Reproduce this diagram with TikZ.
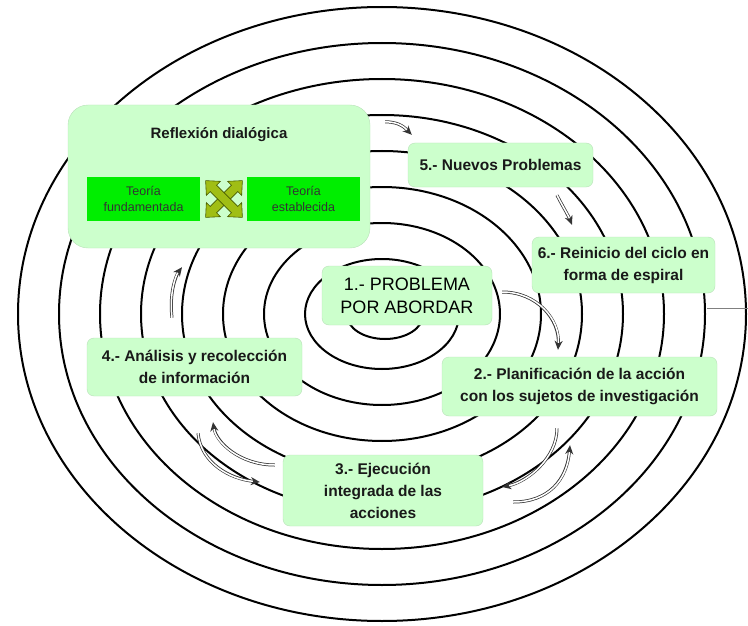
\documentclass[tikz,border=0pt]{standalone}
\usepackage{fontspec}
\setsansfont{Liberation Sans}
\usetikzlibrary{arrows.meta, calc}
\definecolor{paleGreen}{RGB}{204,255,204}
\definecolor{boxEdge}{RGB}{185,225,185}
\definecolor{brightGreen}{RGB}{0,238,0}
\definecolor{crossFill}{RGB}{160,190,20}
\definecolor{crossEdge}{RGB}{70,90,0}
\tikzset{
  ring/.style={line width=2pt},
  stepbox/.style={draw=boxEdge, fill=paleGreen, rounded corners=7pt, align=center, text=black!90,
    font=\sffamily\bfseries\fontsize{15.5}{22}\selectfont, inner sep=2pt},
  teoria/.style={fill=brightGreen, minimum width=113pt, minimum height=44pt, align=center,
    text=black!80, font=\sffamily\fontsize{12.5}{16}\selectfont, inner sep=1pt},
  flowout/.style={line width=3pt, black!80, -{Stealth[length=9pt,width=8pt]}},
  flowin/.style={line width=1.5pt, white, shorten >=7pt}
}
\newcommand{\flowarrow}[1]{\draw[flowout] #1; \draw[flowin] #1;}
\begin{document}
\begin{tikzpicture}[x=1pt, y=-1pt]
\path[use as bounding box, fill=white] (0,0) rectangle (748,626);

\foreach \k in {0,...,7}
  \draw[ring] (382,314) ellipse [x radius={(364-41*\k)*1pt}, y radius={(307-36*\k)*1pt}];
\draw[ring] (385,315) ellipse [x radius=38pt, y radius=24pt];
\coordinate (tailIn) at (707,308);
\coordinate (tailOut) at (748,308);
\draw[gray, line width=0.8pt] (tailIn) -- (tailOut);

\node[stepbox, rounded corners=20pt, minimum width=302pt, minimum height=143pt] (refl) at (219,176.5) {};
\node[text=black!90, font=\sffamily\bfseries\fontsize{15}{18}\selectfont] (titulo) at (219,135) {Reflexión dialógica};
\node[teoria] (tf) at (143.5,199) {Teoría\\fundamentada};
\node[teoria] (te) at (303.5,199) {Teoría\\establecida};
\foreach \r in {45,-45}
  \draw[fill=crossFill, draw=crossEdge, line width=0.6pt, shift={(224,199)}, rotate=\r]
    (-26,0) -- (-15,10) -- (-15,4.5) -- (15,4.5) -- (15,10) -- (26,0) -- (15,-10) -- (15,-4.5) -- (-15,-4.5) -- (-15,-10) -- cycle;

\node[stepbox, minimum width=170pt, minimum height=59pt, text=black, font=\sffamily\fontsize{18}{23}\selectfont] (p1) at (407,295.5) {1.- PROBLEMA\\POR ABORDAR};
\node[stepbox, minimum width=275pt, minimum height=59pt] (p2) at (579.5,386.5) {2.- Planificación de la acción\\con los sujetos de investigación};
\node[stepbox, minimum width=200pt, minimum height=71pt] (p3) at (383,490.5) {3.- Ejecución\\integrada de las\\acciones};
\node[stepbox, minimum width=215pt, minimum height=58pt] (p4) at (194.5,367) {4.- Análisis y recolección\\de información};
\node[stepbox, minimum width=185pt, minimum height=44pt] (p5) at (500.5,165) {5.- Nuevos Problemas};
\node[stepbox, minimum width=183pt, minimum height=56pt] (p6) at (623.5,265) {6.- Reinicio del ciclo en\\forma de espiral};

\flowarrow{($(p1.east)+(10,-3.5)$) .. controls +(35,0) and +(2,-30) .. ($(p2.north)+(-21.5,-7)$)}
\flowarrow{($(p2.south)+(-22.5,12)$) .. controls +(0,30) and +(25,-5) .. ($(p3.east)+(19,-3.5)$)}
\flowarrow{($(p3.east)+(30,11.5)$) .. controls +(35,0) and +(-3,35) .. ($(p2.south)+(-9.5,29)$)}
\flowarrow{($(p3.west)+(-8,-25.5)$) .. controls +(-35,0) and +(3,20) .. ($(p4.south)+(18.5,26)$)}
\flowarrow{($(p4.south)+(3.5,37)$) .. controls +(3,30) and +(-30,-3) .. ($(p3.west)+(-23,-8.5)$)}
\flowarrow{($(p4.north)+(-22.5,-20)$) .. controls +(-3,-25) and +(-6,8) .. ($(refl.south)+(-37,19)$)}
\flowarrow{($(refl.north east)+(15,17)$) .. controls +(15,0) and +(-6,-6) .. ($(p5.north west)+(4,-8)$)}
\flowarrow{($(p5.south)+(56.5,8)$) .. controls +(5,10) and +(-4,-10) .. ($(p6.north)+(-51.5,-12)$)}
\end{tikzpicture}
\end{document}
